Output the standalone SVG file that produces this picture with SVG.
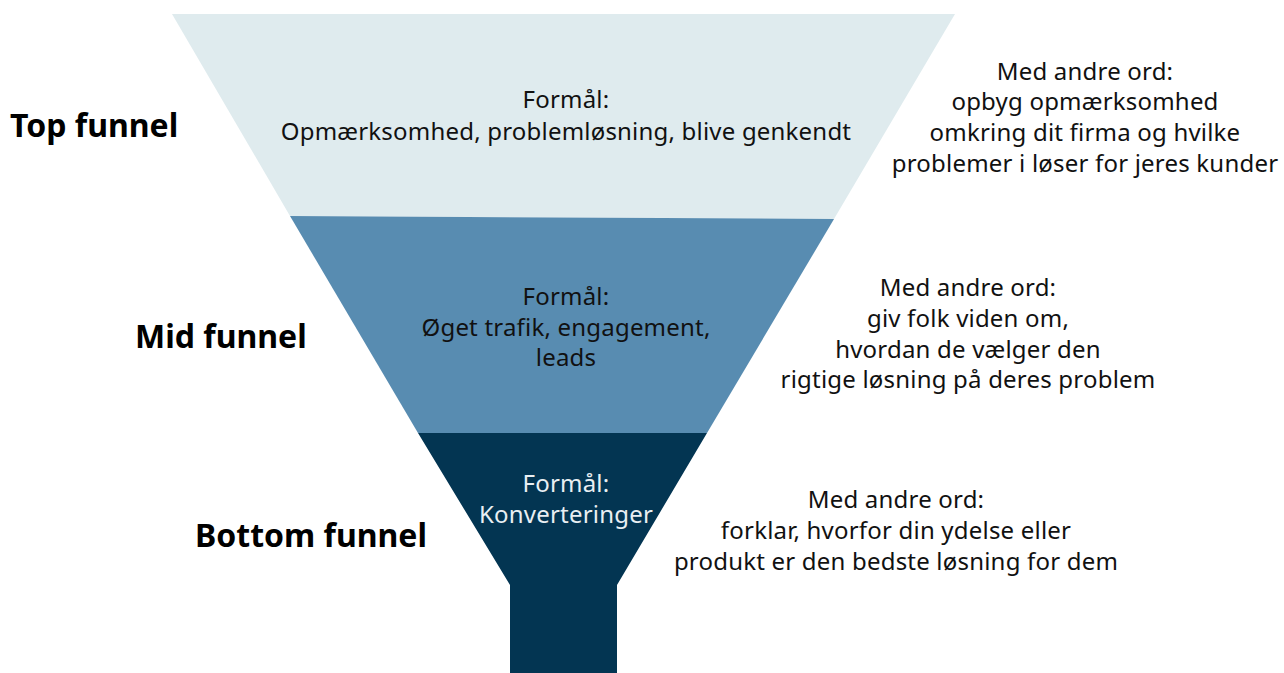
<svg xmlns="http://www.w3.org/2000/svg" width="1284" height="673" viewBox="0 0 1284 673">
  <style>
    .label { font-family: "Noto Sans", "Liberation Sans", sans-serif; font-weight: 700; font-size: 32px; fill: #000; }
    .body { font-family: "Noto Sans", "Liberation Sans", sans-serif; font-weight: 400; font-size: 24px; letter-spacing: 0.2px; fill: #111; text-anchor: middle; }
    .inv { fill: #e9eff3; }
  </style>
  <rect width="1284" height="673" fill="#ffffff"/>

  <!-- funnel stages -->
  <g id="stage-top">
    <polygon points="172,14 955,14 834,219 290,216" fill="#dfebee"/>
    <text class="body" x="566" y="108">Formål:</text>
    <text class="body" x="566" y="140">Opmærksomhed, problemløsning, blive genkendt</text>
  </g>
  <g id="stage-mid">
    <polygon points="290,216 834,219 707,433 418,433" fill="#588cb1"/>
    <text class="body" x="566" y="305">Formål:</text>
    <text class="body" x="566" y="336">Øget trafik, engagement,</text>
    <text class="body" x="566" y="366">leads</text>
  </g>
  <g id="stage-bottom">
    <polygon points="418,433 707,433 617,585 617,673 510,673 510,585" fill="#033552"/>
    <text class="body inv" x="566" y="492">Formål:</text>
    <text class="body inv" x="566" y="523">Konverteringer</text>
  </g>

  <!-- stage names -->
  <g id="name-top"><text class="label" x="10" y="137">Top funnel</text></g>
  <g id="name-mid"><text class="label" x="135" y="348">Mid funnel</text></g>
  <g id="name-bottom"><text class="label" x="195" y="547">Bottom funnel</text></g>

  <!-- explanations -->
  <g id="note-top">
    <text class="body" x="1085" y="80">Med andre ord:</text>
    <text class="body" x="1085" y="110">opbyg opmærksomhed</text>
    <text class="body" x="1085" y="141">omkring dit firma og hvilke</text>
    <text class="body" x="1085" y="172">problemer i løser for jeres kunder</text>
  </g>
  <g id="note-mid">
    <text class="body" x="968" y="296">Med andre ord:</text>
    <text class="body" x="968" y="327">giv folk viden om,</text>
    <text class="body" x="968" y="358">hvordan de vælger den</text>
    <text class="body" x="968" y="388">rigtige løsning på deres problem</text>
  </g>
  <g id="note-bottom">
    <text class="body" x="896" y="508">Med andre ord:</text>
    <text class="body" x="896" y="539">forklar, hvorfor din ydelse eller</text>
    <text class="body" x="896" y="570">produkt er den bedste løsning for dem</text>
  </g>

  <g id="connectors"/>
</svg>
